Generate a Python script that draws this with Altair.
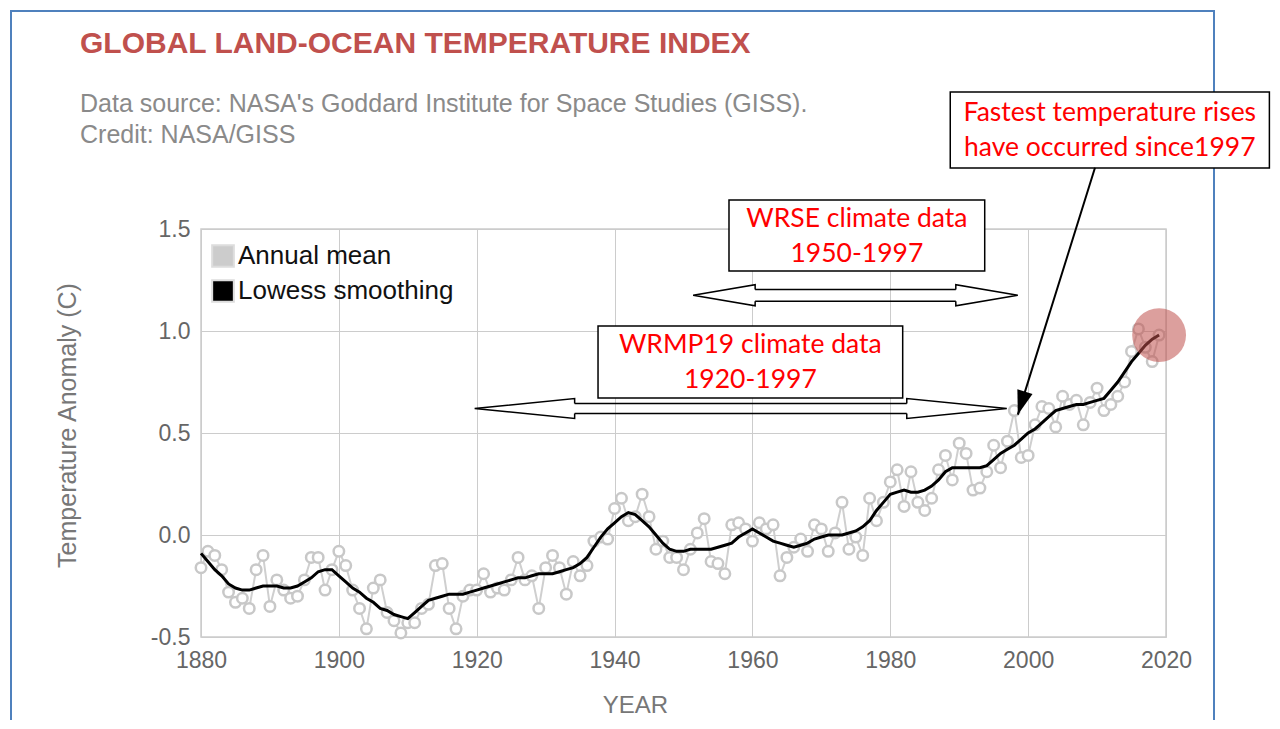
import altair as alt
import pandas as pd

# ---------------- data ----------------
years = list(range(1880, 2020))
annual_mean = [
    -0.16, -0.08, -0.10, -0.17, -0.28, -0.33, -0.31, -0.36, -0.17, -0.10,
    -0.35, -0.22, -0.27, -0.31, -0.30, -0.22, -0.11, -0.11, -0.27, -0.17,
    -0.08, -0.15, -0.27, -0.36, -0.46, -0.26, -0.22, -0.38, -0.42, -0.48,
    -0.43, -0.43, -0.36, -0.34, -0.15, -0.14, -0.36, -0.46, -0.30, -0.27,
    -0.27, -0.19, -0.28, -0.26, -0.27, -0.22, -0.11, -0.22, -0.20, -0.36,
    -0.16, -0.10, -0.16, -0.29, -0.13, -0.20, -0.15, -0.03, -0.01, -0.02,
    0.13, 0.18, 0.07, 0.09, 0.20, 0.09, -0.07, -0.03, -0.11, -0.11,
    -0.17, -0.07, 0.01, 0.08, -0.13, -0.14, -0.19, 0.05, 0.06, 0.03,
    -0.03, 0.06, 0.03, 0.05, -0.20, -0.11, -0.06, -0.02, -0.08, 0.05,
    0.03, -0.08, 0.01, 0.16, -0.07, -0.01, -0.10, 0.18, 0.07, 0.16,
    0.26, 0.32, 0.14, 0.31, 0.16, 0.12, 0.18, 0.32, 0.39, 0.27,
    0.45, 0.40, 0.22, 0.23, 0.31, 0.44, 0.33, 0.46, 0.61, 0.38,
    0.39, 0.54, 0.63, 0.62, 0.53, 0.68, 0.64, 0.66, 0.54, 0.65,
    0.72, 0.61, 0.64, 0.68, 0.75, 0.90, 1.01, 0.92, 0.85, 0.98,
]
lowess_smoothing = [
    -0.09, -0.13, -0.17, -0.20, -0.24, -0.26, -0.27, -0.27, -0.26, -0.25,
    -0.25, -0.25, -0.26, -0.26, -0.25, -0.23, -0.21, -0.18, -0.17, -0.17,
    -0.20, -0.23, -0.26, -0.28, -0.31, -0.33, -0.36, -0.37, -0.39, -0.40,
    -0.41, -0.38, -0.35, -0.32, -0.31, -0.30, -0.29, -0.29, -0.29, -0.28,
    -0.27, -0.26, -0.25, -0.24, -0.23, -0.22, -0.21, -0.21, -0.20, -0.19,
    -0.19, -0.19, -0.18, -0.17, -0.16, -0.14, -0.11, -0.06, -0.01, 0.03,
    0.06, 0.09, 0.11, 0.10, 0.07, 0.04, 0.00, -0.04, -0.07, -0.08,
    -0.08, -0.07, -0.07, -0.07, -0.07, -0.06, -0.05, -0.04, -0.01, 0.01,
    0.03, 0.01, -0.01, -0.03, -0.04, -0.05, -0.06, -0.05, -0.04, -0.02,
    -0.01, 0.00, 0.00, 0.00, 0.01, 0.02, 0.04, 0.07, 0.12, 0.16,
    0.20, 0.21, 0.22, 0.21, 0.21, 0.22, 0.24, 0.27, 0.31, 0.33,
    0.33, 0.33, 0.33, 0.33, 0.34, 0.37, 0.40, 0.42, 0.44, 0.47,
    0.50, 0.52, 0.55, 0.58, 0.61, 0.62, 0.63, 0.64, 0.64, 0.65,
    0.66, 0.67, 0.71, 0.75, 0.80, 0.85, 0.89, 0.93, 0.96, 0.98,
]
assert len(years) == len(annual_mean) == len(lowess_smoothing)

series_names = ["Annual mean", "Lowess smoothing"]
series_colors = ["#cccccc", "#000000"]

title_text = "GLOBAL LAND-OCEAN TEMPERATURE INDEX"
subtitle_text = "Data source: NASA's Goddard Institute for Space Studies (GISS).\nCredit: NASA/GISS"
x_title = "YEAR"
y_title = "Temperature Anomaly (C)"
x_ticks = [1880, 1900, 1920, 1940, 1960, 1980, 2000, 2020]
y_ticks = [-0.5, 0.0, 0.5, 1.0, 1.5]

highlight_year = [2019]
highlight_value = [0.98]

# double-headed range arrows (tips in years, level in deg C)
arrow_start = [1951.4, 1919.7]
arrow_end = [1998.5, 1996.9]
arrow_level = [1.175, 0.62]

# annotation boxes
box_text = [
    "WRSE climate data\n1950-1997",
    "WRMP19 climate data\n1920-1997",
    "Fastest temperature rises\nhave occurred since1997",
]
box_x1 = [1956.6, 1937.6, 1988.7]
box_x2 = [1993.7, 1981.8, 2035.0]
box_y1 = [1.294, 0.672, 1.799]
box_y2 = [1.642, 1.025, 2.172]

# pointer arrow from the "Fastest" box
pointer_x1 = [2009.7]
pointer_y1 = [1.80]
pointer_x2 = [1998.5]
pointer_y2 = [0.59]

# ---------------- chart ----------------
FONT = "Liberation Sans"
xs = alt.Scale(domain=[1880, 2020], nice=False, zero=False)
ys = alt.Scale(domain=[-0.5, 1.5], nice=False, zero=False)


def X(f):
    return alt.X(f, scale=xs)


def Y(f):
    return alt.Y(f, scale=ys)


df = pd.DataFrame({"year": years, "annual": annual_mean, "lowess": lowess_smoothing})
one = pd.DataFrame({"k": [0]})

border = alt.Chart(one).mark_rect(filled=False, stroke="#4f81bd", strokeWidth=2).encode(
    x=alt.value(-190), x2=alt.value(1013), y=alt.value(-218), y2=alt.value(530)
)

annual = alt.Chart(df).mark_line(
    color="#cfcfcf", strokeWidth=2,
    point=alt.OverlayMarkDef(filled=False, fill="white", size=110, strokeWidth=2.5,
                             color="#c8c8c8", opacity=1),
).encode(
    x=alt.X("year:Q", scale=xs, title=x_title,
            axis=alt.Axis(values=x_ticks, format="d", grid=True, gridColor="#cccccc",
                          domain=False, ticks=False, labelPadding=12, labelFontSize=23,
                          labelColor="#666666", labelFont=FONT, labelFlush=False,
                          labelOverlap=False, titleFont=FONT,
                          titleFontSize=24, titleFontWeight="normal", titleColor="#777777",
                          titleX=434, titleY=75, titleBaseline="alphabetic")),
    y=alt.Y("annual:Q", scale=ys, title=y_title,
            axis=alt.Axis(values=y_ticks, grid=True, gridColor="#cccccc", domain=False,
                          ticks=False, labelPadding=11, labelFontSize=23, labelColor="#666666",
                          labelFont=FONT, labelFlush=False, labelOverlap=False,
                          titleFont=FONT, titleFontSize=25,
                          titleFontWeight="normal", titleColor="#777777",
                          titleX=-134, titleY=196, titleAlign="center", titleBaseline="middle",
                          labelExpr="datum.value < 0 ? '-' + format(-datum.value, '.1f') : format(datum.value, '.1f')")),
)

smooth = alt.Chart(df).mark_line(color="black", strokeWidth=3).encode(
    x=X("year:Q"), y=Y("lowess:Q"),
)

legend_layer = alt.Chart(df).transform_calculate(series="'Annual mean'").transform_filter(
    "false").mark_square(filled=True, opacity=1).encode(
    x=X("year:Q"), y=Y("annual:Q"),
    color=alt.Color("series:N", scale=alt.Scale(domain=series_names, range=series_colors),
                    legend=alt.Legend(title=None, orient="none", legendX=9, legendY=14,
                                      symbolType="square", symbolSize=470,
                                      symbolStrokeColor="#dddddd", symbolStrokeWidth=2,
                                      labelFont=FONT, labelFontSize=26, labelColor="#111111",
                                      labelOffset=2, rowPadding=5, padding=0,
                                      labelLimit=400)),
)

hl = pd.DataFrame({"year": highlight_year, "value": highlight_value})
highlight = alt.Chart(hl).mark_circle(size=2900, color="#c0504d", opacity=0.55).encode(
    x=X("year:Q"), y=Y("value:Q")
)


def block_arrow(i, head_years, head_px, barb, shaft):
    d = pd.DataFrame({"x1": [arrow_start[i]], "x2": [arrow_end[i]], "y": [arrow_level[i]]})
    base = alt.Chart(d)
    unit = head_px / 2.0
    half = shaft * unit
    sh = base.transform_calculate(sx1=f"datum.x1 + {head_years}", sx2=f"datum.x2 - {head_years}")
    layers = []
    for off in (-half, half):
        layers.append(sh.mark_rule(color="black", strokeWidth=1.5, yOffset=off).encode(
            x=X("sx1:Q"), x2="sx2:Q", y=Y("y:Q")))
    path = f"M2,-{shaft} L2,-{barb} L0,0 L2,{barb} L2,{shaft}"
    for field, ang in (("x1", 0), ("x2", 180)):
        layers.append(base.mark_point(shape=path, size=head_px ** 2, filled=True, fill="white",
                                      stroke="black", strokeWidth=1.5, opacity=1,
                                      angle=ang).encode(
            x=X(f"{field}:Q"), y=Y("y:Q")))
    return layers


arrows = block_arrow(0, 8.6, 62, 0.34, 0.19) + block_arrow(1, 14.0, 100, 0.2, 0.1)

boxes_df = pd.DataFrame({"text": box_text, "x1": box_x1, "x2": box_x2, "y1": box_y1, "y2": box_y2})
boxes = alt.Chart(boxes_df).mark_rect(fill="white", stroke="black", strokeWidth=1.5).encode(
    x=X("x1:Q"), x2="x2:Q", y=Y("y1:Q"), y2="y2:Q",
)
box_labels = alt.Chart(boxes_df).transform_calculate(
    cx="(datum.x1 + datum.x2) / 2", cy="(datum.y1 + datum.y2) / 2"
).mark_text(font="Lato", fontSize=26.5, color="#ff0000", lineBreak="\n", lineHeight=35,
            align="center", baseline="middle", dy=-17).encode(
    x=X("cx:Q"), y=Y("cy:Q"), text="text:N"
)

ptr = pd.DataFrame({"x1": pointer_x1, "y1": pointer_y1, "x2": pointer_x2, "y2": pointer_y2})
pointer_line = alt.Chart(ptr).mark_rule(color="black", strokeWidth=2).encode(
    x=X("x1:Q"), y=Y("y1:Q"), x2="x2:Q", y2="y2:Q",
)
pointer_head = alt.Chart(ptr).mark_point(
    shape="M0,0 L-0.33,1 L0.33,1 Z", size=48 ** 2, filled=True, color="black", opacity=1,
    angle=197.3,
).encode(x=X("x2:Q"), y=Y("y2:Q"))

title_mark = alt.Chart(pd.DataFrame({"t": [title_text]})).mark_text(
    align="left", baseline="alphabetic", font=FONT, fontSize=30, fontWeight="bold",
    color="#c0504d",
).encode(x=alt.value(-121), y=alt.value(-176), text="t:N")

subtitle_mark = alt.Chart(pd.DataFrame({"t": [subtitle_text]})).mark_text(
    align="left", baseline="alphabetic", font=FONT, fontSize=25, color="#8a8a8a",
    lineBreak="\n", lineHeight=31,
).encode(x=alt.value(-121), y=alt.value(-117), text="t:N")

chart = alt.layer(
    border, annual, smooth, legend_layer, highlight, *arrows, boxes, box_labels,
    pointer_line, pointer_head, title_mark, subtitle_mark,
).properties(
    width=965, height=408,
    autosize=alt.AutoSizeParams(type="none"),
    padding={"left": 193, "top": 221, "right": 106, "bottom": 83},
).configure_view(stroke="#cccccc", strokeWidth=1.5)

chart.save("out.html", embed_options={"renderer": "svg", "actions": False})
